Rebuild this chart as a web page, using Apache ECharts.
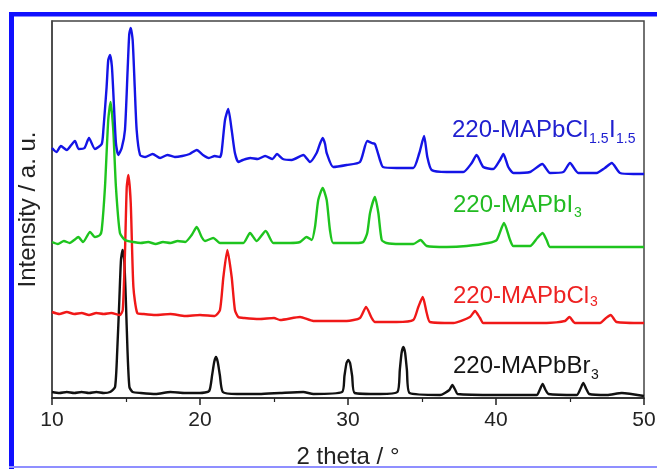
<!DOCTYPE html>
<html>
<head>
<meta charset="utf-8">
<script src="https://cdn.jsdelivr.net/npm/echarts@6/dist/echarts.min.js"></script>
<style>
  html, body { margin: 0; padding: 0; background: #fff; }
  #chart { width: 657px; height: 469px; }
</style>
</head>
<body>
<div id="chart"></div>
<script>
// XRD patterns — 2 theta (deg) vs intensity (a.u., curves stacked with offsets)

const xTicks = [10, 20, 30, 40, 50];

const blueData = [
  [10.0,252],[10.3,248],[10.6,254],[11.0,250],[11.3,255],[11.55,259],[11.8,251],[12.2,252],[12.5,262],
  [12.9,251],[13.36,256],[13.47,270],[13.69,313],[13.8,340],[13.92,345],[14.05,333],[14.19,293],[14.32,257],
  [14.48,245],[14.71,252],[14.93,270],[15.11,330],[15.22,366],[15.32,372],[15.45,360],[15.59,313],[15.72,270],
  [15.95,245],[16.3,243],[16.8,246],[17.3,242],[17.8,245],[18.3,243],[18.8,244],[19.3,246],[19.78,250],
  [20.2,245],[20.6,242],[21.0,244],[21.35,243],[21.46,248],[21.69,280],[21.91,291],[22.14,270],[22.36,247],
  [22.59,238],[22.9,240],[23.4,242],[23.9,241],[24.4,244],[24.9,241],[25.2,246],[25.6,241],[26.2,240],
  [26.98,245],[27.43,238],[27.88,247],[28.1,256],[28.29,262],[28.45,256],[28.56,247],[29.0,233],[29.91,235],
  [30.81,238],[31.3,259],[31.6,257],[31.82,256],[32.16,240],[32.36,233],[33.29,232],[34.41,232],[34.82,247],
  [35.14,264],[35.36,243],[35.65,230],[36.67,228],[37.79,228],[38.36,237],[38.69,245],[39.14,233],[39.82,231],
  [40.27,240],[40.5,246],[40.83,233],[41.18,227],[42.3,228],[43.13,236],[43.65,227],[44.55,228],[45.0,237],
  [45.56,227],[46.8,227],[47.36,232],[47.82,237],[48.38,227],[49.28,226],[50.0,226]
];

const greenData = [
  [10.0,158],[10.4,156],[10.8,159],[11.2,157],[11.5,160],[11.78,163],[12.1,158],[12.57,168],[12.9,163],
  [13.24,165],[13.36,170],[13.58,213],[13.8,280],[13.96,298],[14.14,270],[14.32,213],[14.59,167],[14.93,160],
  [15.5,158],[16.0,157],[16.5,158],[17.0,156],[17.5,158],[18.0,157],[18.5,159],[19.0,158],[19.44,165],
  [19.78,173],[20.11,163],[20.34,159],[20.9,162],[21.35,157],[22.25,157],[22.93,157],[23.38,167],[23.83,159],
  [24.44,169],[24.95,157],[25.41,157],[26.08,157],[26.76,158],[27.2,163],[27.55,160],[27.77,173],[27.99,200],
  [28.29,212],[28.56,200],[28.78,170],[29.0,157],[29.91,157],[30.5,157],[31.03,158],[31.3,167],[31.49,187],
  [31.82,203],[32.05,187],[32.28,160],[32.6,157],[33.5,156],[34.41,156],[34.9,160],[35.32,154],[36.67,153],
  [38.02,154],[39.48,157],[40.05,160],[40.54,177],[40.95,160],[41.17,154],[42.3,154],[42.79,162],[43.15,167],
  [43.42,160],[43.65,153],[45.68,153],[47.93,153],[50.0,153]
];

const redData = [
  [10.0,88],[10.5,86],[11.0,88],[11.5,86],[12.0,87],[12.5,85],[13.0,87],[13.5,86],[14.0,87],[14.59,85],
  [14.78,90],[14.93,147],[15.05,213],[15.16,225],[15.32,197],[15.5,113],[15.76,87],[16.2,86],[17.0,85],
  [18.0,86],[19.0,84],[20.0,85],[21.0,84],[21.35,90],[21.58,123],[21.85,150],[22.14,123],[22.36,90],
  [22.59,83],[23.0,82],[24.0,81],[25.0,82],[25.41,80],[26.76,83],[27.66,79],[29.91,79],[30.81,82],
  [31.22,93],[31.6,82],[31.82,78],[33.29,78],[34.41,80],[34.75,93],[35.05,103],[35.32,87],[35.54,78],
  [37.12,77],[38.24,83],[38.58,89],[38.92,82],[39.14,77],[41.17,77],[43.42,77],[44.66,79],[44.96,83],
  [45.34,77],[47.03,77],[47.43,82],[47.75,85],[48.15,78],[50.0,77]
];

const blackData = [
  [10.0,8],[10.5,7],[11.0,8],[11.5,7],[12.0,8],[12.5,7],[13.0,8],[13.5,7],[13.92,8],[14.26,13],
  [14.41,50],[14.55,100],[14.66,140],[14.77,150],[14.88,140],[14.99,100],[15.1,50],[15.23,13],[15.45,8],
  [16.0,7],[17.0,6],[18.0,8],[19.0,7],[20.0,7],[20.62,9],[20.82,25],[20.96,38],[21.08,43],[21.2,38],
  [21.34,25],[21.54,8],[22.5,6],[24.0,6],[25.41,7],[26.98,8],[27.66,6],[29.6,8],[29.76,24],[29.9,37],
  [30.02,40],[30.14,37],[30.28,24],[30.45,7],[32.16,6],[33.34,8],[33.5,30],[33.62,47],[33.74,53],[33.86,47],
  [33.98,30],[34.16,7],[36.22,5],[36.85,10],[37.05,15],[37.25,10],[37.4,6],[40.05,5],[42.75,5],[42.95,10],
  [43.15,16],[43.35,10],[43.55,6],[45.45,5],[45.7,11],[45.9,17],[46.1,11],[46.3,6],[47.5,5],[48.5,7],[50.0,4]
];

const seriesNames = ["220-MAPbCl1.5I1.5", "220-MAPbI3", "220-MAPbCl3", "220-MAPbBr3"];

const FONT = '"Liberation Sans", Arial, Helvetica, sans-serif';
const chart = echarts.init(document.getElementById("chart"), null, { renderer: "canvas" });

function line(name, data, color) {
  return {
    name, type: "line", data,
    showSymbol: false, smooth: 0.2,
    lineStyle: { color, width: 2.4 },
    z: 3,
  };
}

function txt(x, y, text, size, color) {
  return {
    type: "text", x, y, z: 10,
    style: { text, font: `${size}px ${FONT}`, fill: color, verticalAlign: "middle" },
  };
}

const option = {
  backgroundColor: "#fff",
  animation: false,
  grid: {
    left: 52, right: 13, top: 21, bottom: 71,
    containLabel: false, outerBoundsMode: "none",
    show: true, borderColor: "#444", borderWidth: 1.5,
  },
  xAxis: {
    type: "value", min: 10, max: 50, interval: 10,
    name: "2 theta / °", nameLocation: "middle", nameGap: 47,
    nameTextStyle: { fontSize: 24, color: "#222", fontFamily: FONT },
    axisLine: { lineStyle: { color: "#222", width: 1.5 } },
    axisTick: { length: 7, lineStyle: { color: "#222", width: 1.5 } },
    minorTick: { show: true, splitNumber: 2, length: 4, lineStyle: { color: "#222", width: 1.2 } },
    axisLabel: {
      margin: 12, fontSize: 21, color: "#222", fontFamily: FONT,
      formatter: (v) => (xTicks.includes(v) ? String(v) : ""),
    },
    splitLine: { show: false },
  },
  yAxis: {
    type: "value", min: 2, max: 379,
    name: "Intensity / a. u.", nameLocation: "middle", nameGap: 12,
    nameTextStyle: { fontSize: 24, color: "#222", fontFamily: FONT },
    axisLine: { show: true, lineStyle: { color: "#444", width: 1.5 } },
    axisTick: { show: false },
    axisLabel: { show: false },
    splitLine: { show: false },
  },
  series: [
    line(seriesNames[3], blackData, "#111111"),
    line(seriesNames[2], redData, "#f01818"),
    line(seriesNames[1], greenData, "#1ec41e"),
    line(seriesNames[0], blueData, "#1414e6"),
  ],
  graphic: [
    // outer frame
    { type: "rect", shape: { x: 9, y: 12, width: 648, height: 4.5 }, style: { fill: "#1010ff" }, silent: true },
    { type: "rect", shape: { x: 9, y: 12, width: 5, height: 457 }, style: { fill: "#1010ff" }, silent: true },
    { type: "rect", shape: { x: 9, y: 466, width: 648, height: 2 }, style: { fill: "#8f8fff" }, silent: true },
    // curve labels
    txt(452, 130, "220-MAPbCl", 24, "#2020d0"),
    txt(589, 139.5, "1.5", 14, "#2020d0"),
    txt(609, 130, "I", 24, "#2020d0"),
    txt(616, 139.5, "1.5", 14, "#2020d0"),
    txt(453, 205, "220-MAPbI", 24, "#22bb22"),
    txt(574, 213.5, "3", 14, "#22bb22"),
    txt(453, 296.5, "220-MAPbCl", 24, "#ee2222"),
    txt(590, 302, "3", 14, "#ee2222"),
    txt(453, 366.5, "220-MAPbBr", 24, "#151515"),
    txt(591, 375, "3", 14, "#151515"),
  ],
};

chart.setOption(option);
window.addEventListener("resize", () => chart.resize());
</script>
</body>
</html>
